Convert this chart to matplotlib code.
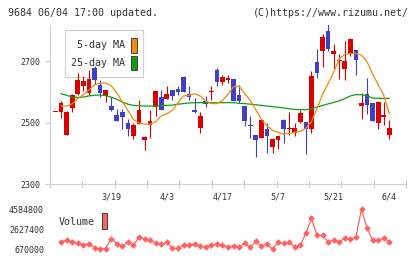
import numpy as np
import matplotlib
matplotlib.use("Agg")
import matplotlib.pyplot as plt
from matplotlib.patches import Rectangle

# ── Datos (9684, 06/04) ────────────────────────────────────────────
opens = [2536, 2536, 2460, 2547, 2594, 2618, 2596, 2678, 2624, 2588,
         2555, 2526, 2534, 2498, 2458, 2496, 2442, 2493, 2551, 2584,
         2578, 2607, 2611, 2649, 2594, 2542, 2484, 2571, 2599, 2673,
         2631, 2638, 2642, 2591, 2555, 2491, 2460, 2451, 2479, 2419,
         2444, 2507, 2478, 2466, 2502, 2503, 2478, 2697, 2733, 2800,
         2724, 2700, 2675, 2724, 2738, 2554, 2592, 2563, 2498, 2518,
         2461]
highs = [2536, 2572, 2538, 2593, 2662, 2651, 2670, 2684, 2640, 2607,
         2583, 2544, 2544, 2513, 2498, 2575, 2455, 2540, 2604, 2607,
         2620, 2607, 2618, 2651, 2618, 2580, 2533, 2588, 2618, 2678,
         2656, 2656, 2642, 2624, 2555, 2520, 2460, 2511, 2498, 2449,
         2457, 2511, 2536, 2498, 2540, 2503, 2667, 2740, 2788, 2820,
         2755, 2725, 2765, 2777, 2738, 2598, 2646, 2563, 2570, 2568,
         2507]
lows = [2536, 2516, 2460, 2534, 2591, 2602, 2591, 2626, 2582, 2566,
        2537, 2504, 2479, 2458, 2448, 2496, 2411, 2451, 2520, 2540,
        2578, 2574, 2591, 2599, 2575, 2531, 2466, 2551, 2575, 2618,
        2622, 2629, 2569, 2564, 2490, 2449, 2389, 2451, 2402, 2402,
        2413, 2433, 2460, 2456, 2499, 2397, 2465, 2645, 2680, 2733,
        2678, 2641, 2638, 2716, 2656, 2511, 2527, 2505, 2478, 2491,
        2448]
closes = [2536, 2565, 2536, 2591, 2640, 2635, 2642, 2640, 2596, 2607,
          2540, 2504, 2517, 2479, 2493, 2540, 2452, 2504, 2604, 2540,
          2594, 2588, 2599, 2599, 2585, 2534, 2522, 2560, 2604, 2631,
          2649, 2646, 2569, 2569, 2504, 2489, 2442, 2507, 2455, 2447,
          2455, 2479, 2484, 2484, 2532, 2478, 2653, 2662, 2780, 2740,
          2732, 2704, 2702, 2771, 2703, 2565, 2557, 2505, 2566, 2524,
          2481]

# medias móviles y volumen desde la 2ª vela
ma5 = [2554, 2554, 2561, 2578, 2591, 2606, 2623, 2629, 2629, 2620,
       2597, 2568, 2540, 2510, 2499, 2495, 2495, 2503, 2522, 2529,
       2540, 2565, 2587, 2589, 2594, 2587, 2570, 2562, 2562, 2572,
       2592, 2617, 2619, 2595, 2572, 2542, 2511, 2489, 2475, 2468,
       2462, 2466, 2468, 2471, 2482, 2503, 2546, 2592, 2628, 2664,
       2708, 2722, 2725, 2725, 2720, 2698, 2659, 2622, 2590, 2529]
ma25 = [2594, 2589, 2583, 2582, 2583, 2587, 2589, 2590, 2588, 2583,
        2576, 2567, 2560, 2556, 2555, 2554, 2554, 2554, 2555, 2556,
        2557, 2560, 2562, 2564, 2565, 2565, 2565, 2565, 2565, 2565,
        2565, 2565, 2563, 2562, 2560, 2558, 2556, 2554, 2552, 2550,
        2548, 2545, 2543, 2542, 2542, 2545, 2551, 2556, 2561, 2566,
        2571, 2578, 2587, 2591, 2591, 2587, 2580, 2579, 2579, 2579]
volume = [1352000, 1580000, 1384000, 1287000, 1091000, 1221000, 830000, 670000, 735000, 1710000,
          1221000, 993000, 1352000, 1058000, 1873000, 1678000, 1580000, 1254000, 1189000, 1352000,
          765000, 765000, 1091000, 1091000, 1221000, 993000, 895000, 1058000, 1189000, 1091000,
          862000, 993000, 895000, 1254000, 862000, 1450000, 993000, 1189000, 700000, 1352000,
          1254000, 1352000, 928000, 1058000, 2232000, 3700000, 2036000, 2036000, 1417000, 1580000,
          1352000, 1808000, 1645000, 1906000, 4584800, 2721000, 1547000, 1547000, 1743000, 1417000]

date_pos = [10, 20, 30, 40, 50, 60]
date_labels = ["3/19", "4/3", "4/17", "5/7", "5/21", "6/4"]
price_ticks = [2300, 2500, 2700]
vol_ticks = [670000, 2627400, 4584800]

RED = "#d80000"
BLUE = "#4040c0"
ORANGE = "#f08a10"
GREEN = "#10a010"
VOLC = "#ff6262"
GRID = "#d0d0d0"
TXT = "#333333"
MONO = "DejaVu Sans Mono"

W, H = 420, 259
fig = plt.figure(figsize=(W / 100, H / 100), dpi=100)
fig.patch.set_facecolor("white")

def px_rect(x0, y_top, x1, y_bot):
    return [x0 / W, 1 - y_bot / H, (x1 - x0) / W, (y_bot - y_top) / H]

# ── Gráfico de velas ───────────────────────────────────────────────
ax = fig.add_axes(px_rect(50, 25, 406, 184))
n = len(opens)
x = np.arange(n)
o, h, l, c = map(np.array, (opens, highs, lows, closes))
col = np.where(c >= o, RED, BLUE)
ax.vlines(x, l, h, colors=col, linewidth=0.8, zorder=3)
body_low = np.minimum(o, c)
body_h = np.maximum(np.abs(c - o), 2.5)
ax.bar(x, body_h, bottom=body_low, width=0.85, color=col, linewidth=0, zorder=4)

xm = np.arange(1, n)
ax.plot(xm, ma25, color=GREEN, linewidth=0.9, zorder=5)
ax.plot(xm, ma5, color=ORANGE, linewidth=0.9, zorder=5)

ax.set_xlim(-1, 63)
ax.set_ylim(2300, 2818)
for s in ["top", "right"]:
    ax.spines[s].set_visible(False)
for s in ["left", "bottom"]:
    ax.spines[s].set_color(GRID)
    ax.spines[s].set_linewidth(0.8)

ax.set_xticks(-1 + np.arange(12) * 64 / 11)
ax.set_xticklabels([])
ax.tick_params(axis="x", which="major", direction="inout", length=6, width=0.8, color=GRID)
ax.set_xticks(date_pos, minor=True)
ax.set_xticklabels(date_labels, minor=True)
ax.tick_params(axis="x", which="minor", length=0, pad=6, labelsize=6, labelcolor=TXT)
ax.set_yticks(price_ticks)
ax.set_yticklabels([str(v) for v in price_ticks])
ax.tick_params(axis="y", direction="out", length=3.6, width=0.8, color=GRID,
               pad=3.6, labelsize=6, labelcolor=TXT)
for t in ax.get_xticklabels(minor=True) + ax.get_yticklabels():
    t.set_family(MONO)

# leyenda del gráfico de precios
ax.add_patch(Rectangle((0.042, 0.673), 0.219, 0.296, transform=ax.transAxes,
                       facecolor="white", edgecolor=GRID, linewidth=0.8, zorder=1))
for yy, lab, cc in [(0.874, "5-day MA", ORANGE), (0.761, "25-day MA", GREEN)]:
    ax.text(0.212, yy, lab, transform=ax.transAxes, ha="right", va="center",
            fontsize=7.2, family=MONO, color=TXT, zorder=2)
    ax.add_patch(Rectangle((0.228, yy - 0.047), 0.016, 0.094, transform=ax.transAxes,
                           facecolor=cc, edgecolor="#404040", linewidth=0.7, zorder=2))

# ── Volumen ────────────────────────────────────────────────────────
axv = fig.add_axes(px_rect(50, 209.3, 406, 249.3))
axv.plot(xm, volume, color=VOLC, linewidth=0.9, marker="D", markersize=3.4,
         markeredgewidth=0, clip_on=False)
axv.set_xlim(-1, 63)
axv.set_ylim(670000, 4584800)
for s in axv.spines.values():
    s.set_visible(False)
axv.set_xticks([])
axv.set_yticks(vol_ticks)
axv.set_yticklabels([str(v) for v in vol_ticks])
axv.tick_params(axis="y", length=0, pad=4.3, labelsize=6, labelcolor=TXT)
for t in axv.get_yticklabels():
    t.set_family(MONO)

fig.text(95 / W, 1 - 221.7 / H, "Volume", ha="right", va="center",
         fontsize=7.2, family=MONO, color=TXT)
fig.patches.append(Rectangle((101.7 / W, 1 - 229 / H), 5.6 / W, 16 / H,
                             transform=fig.transFigure, facecolor=VOLC,
                             edgecolor="#404040", linewidth=0.7))

# ── Cabecera ───────────────────────────────────────────────────────
fig.text(8 / W, 1 - 12.5 / H, "9684 06/04 17:00 updated.", ha="left", va="center",
         fontsize=7.2, family=MONO, color=TXT)
fig.text(409 / W, 1 - 12.5 / H, "(C)https://www.rizumu.net/", ha="right", va="center",
         fontsize=7.2, family=MONO, color=TXT)

fig.savefig("out.png", dpi=100)
